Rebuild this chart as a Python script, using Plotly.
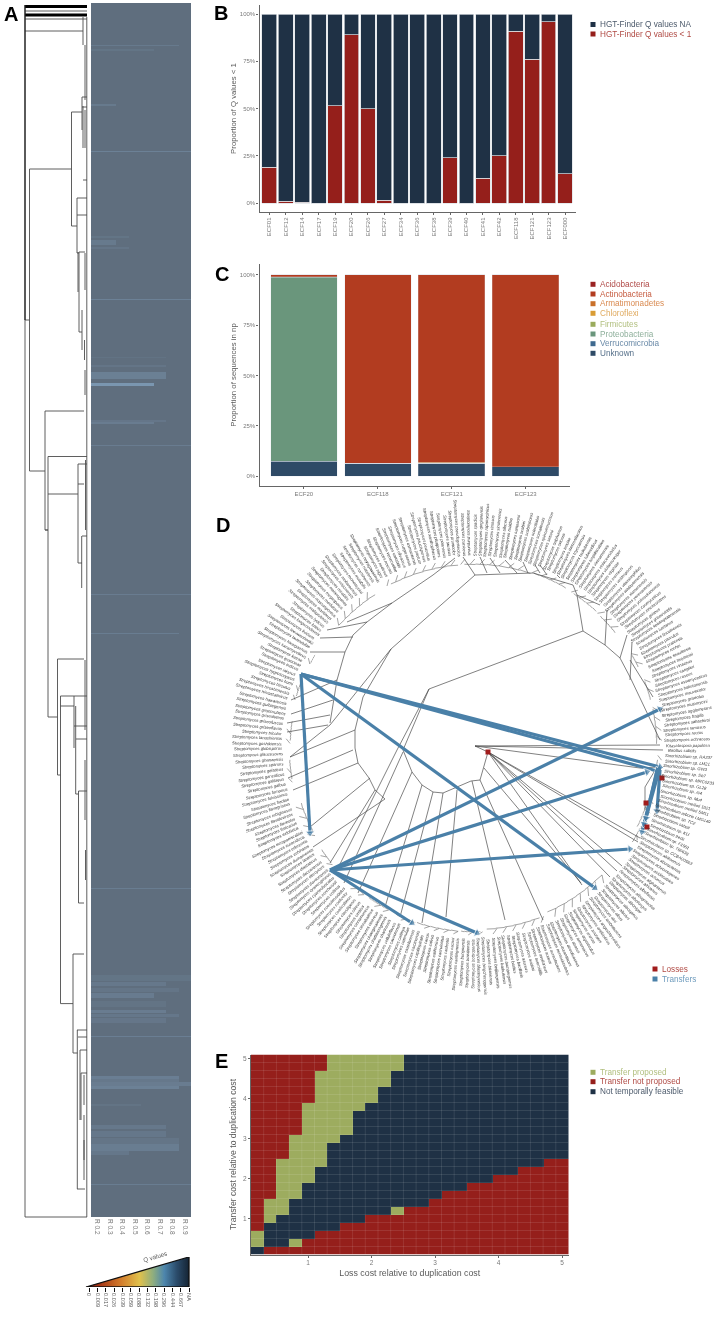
import math
import plotly.graph_objects as go

W, H = 714, 1317
FONT = "Liberation Sans"

# ---------- Panel A: heatmap ----------
hm_cols = ["R 0.2", "R 0.3", "R 0.4", "R 0.5", "R 0.6", "R 0.7", "R 0.8", "R 0.9"]
band_top = [45, 49, 104, 151, 236, 240, 247, 299, 357, 365, 372, 383, 420, 422, 445, 594, 633, 888,
            975, 982, 988, 993, 1001, 1010, 1014, 1018, 1036, 1076, 1079, 1082, 1086, 1104,
            1125, 1131, 1138, 1144, 1151, 1184]
band_bot = [46, 50.5, 105.5, 152, 238, 245, 249, 300, 358, 366.5, 379, 385.5, 421.5, 424, 446, 595, 634, 889,
            981, 986, 992, 998, 1007, 1013, 1017, 1023, 1037, 1079, 1082, 1086, 1089, 1105.5,
            1129, 1137, 1144, 1151, 1155, 1185]
band_cols = [7, 5, 2, 8, 3, 2, 3, 8, 6, 6, 6, 5, 6, 5, 8, 8, 7, 8,
             8, 6, 7, 5, 6, 6, 7, 6, 8, 7, 7, 8, 7, 4,
             6, 6, 7, 7, 3, 8]
band_level = [0.25, 0.14, 0.25, 0.4, 0.14, 0.25, 0.15, 0.4, 0.1, 0.15, 0.38, 0.85, 0.18, 0.3, 0.3, 0.3, 0.32, 0.32,
              0.14, 0.22, 0.15, 0.28, 0.12, 0.3, 0.2, 0.18, 0.35, 0.35, 0.22, 0.3, 0.4, 0.12,
              0.22, 0.2, 0.15, 0.32, 0.2, 0.32]

# ---------- Panel A: dendrogram branches ----------
dend_h_x0 = [25, 25, 25, 29.5, 71.5, 82, 82, 83, 71.5, 77, 77, 77, 79, 79, 29.5, 45, 45, 48, 48, 78, 78, 82, 48,
             57.5, 57.5, 60.5, 60.5, 74, 76, 75.7, 78.5, 78.5, 60.5, 73, 73, 77, 78, 77, 80, 81, 45,
             25, 25, 78]
dend_h_x1 = [83, 87, 29.5, 71.5, 82, 87, 87, 87, 77, 87, 87, 79, 85, 82, 45, 84, 48, 87, 78, 87, 84, 87, 57.5,
             84, 60.5, 87, 74, 87, 87, 78.5, 87, 84, 73, 84, 77.5, 87, 87, 85, 87, 87, 48,
             87, 87, 82]
dend_h_y = [31, 1217, 320, 169, 112, 97, 107, 180, 226, 198, 215, 253, 252, 332, 471, 411, 530, 456.5, 494, 464, 484, 536, 717,
            659, 775, 696, 706, 726, 739, 794, 791, 903, 1003.6, 954, 1053, 1030, 1037, 1189, 1050, 1073, 530,
            11, 19, 563]
dend_v_x = [25, 83, 29.5, 71.5, 82, 83, 77, 79, 78, 82, 45, 48, 78, 81.7, 57.5, 60.5, 74, 75.7, 78.5, 73, 77.3, 80, 81, 84,
            86.8, 85, 85, 85, 84.5, 85, 85.5, 85, 85, 85.5, 84, 84]
dend_v_y0 = [5, 17, 169, 112, 97, 106, 198, 252, 252, 310, 411, 456.5, 464, 536, 659, 696, 696, 706, 791, 954, 1030, 1050, 1073, 1115,
             17, 45, 110, 253, 340, 370, 460, 660, 760, 850, 1075, 1140]
dend_v_y1 = [1217, 45, 471, 226, 130, 148, 253, 332, 292, 350, 530, 717, 563, 588, 775, 1003.6, 748, 794, 903, 1053, 1189, 1120, 1120, 1160,
             1217, 100, 148, 290, 360, 395, 530, 730, 820, 880, 1105, 1180]
dend_thick_x0 = [25, 25]
dend_thick_x1 = [87, 87]
dend_thick_y = [6.5, 15]

# ---------- Q value key ----------
q_labels = ["0", "0.009", "0.017", "0.026", "0.039", "0.059", "0.088", "0.132", "0.198", "0.296", "0.444", "0.667", "NA"]

# ---------- Panel B ----------
b_cats = ["ECF01", "ECF12", "ECF14", "ECF17", "ECF19", "ECF20", "ECF26", "ECF27", "ECF34", "ECF36", "ECF38",
          "ECF39", "ECF40", "ECF41", "ECF42", "ECF118", "ECF121", "ECF123", "ECF000"]
b_q_lt1 = [19, 1, 0.5, 0, 51.5, 89, 50, 1.5, 0, 0, 0, 24, 0, 13, 25, 91, 76, 96, 15.5]
b_q_na = [81, 99, 99.5, 100, 48.5, 11, 50, 98.5, 100, 100, 100, 76, 100, 87, 75, 9, 24, 4, 84.5]

# ---------- Panel C ----------
c_cats = ["ECF20", "ECF118", "ECF121", "ECF123"]
c_names = ["Unknown", "Verrucomicrobia", "Proteobacteria", "Firmicutes", "Chloroflexi", "Armatimonadetes", "Actinobacteria", "Acidobacteria"]
c_unknown = [7.5, 6.5, 6.5, 4.8]
c_verruco = [0.1, 0, 0, 0]
c_proteo = [91.2, 0, 0, 0]
c_firmi = [0.2, 0, 0.1, 0]
c_chloro = [0, 0, 0, 0]
c_armati = [0, 0, 0.4, 0]
c_actino = [0.9, 93.5, 93, 95.2]
c_acido = [0.1, 0, 0, 0]

# ---------- Panel D: tree ----------
tree_paths = [
    [(583,631),(577,595),(573,585),(533,573),(475,575),(391,649),(330,725),(290,757)],
    [(330,723),(337,680),(345,652),(353,635),(367,622),(392,603),(433,575),(455,558)],
    [(391,649),(363,697),(355,730),(355,748),(358,763),(369,778),(375,790),(385,799)],
    [(488,752),(480,780),(471,781),(443,793),(433,792),(422,785),(412,772),(408,762),(403,750),(429,689),(583,631)],
    [(429,689),(397,750),(337,870)],
    [(583,631),(605,645),(620,658),(630,677),(660,740)],
    [(605,645),(607,610)], [(620,658),(627,635)], [(630,680),(632,642)], [(630,660),(653,697)], [(577,595),(600,605)],
    [(475,575),(463,557)], [(487,573),(480,557)], [(500,573),(490,558)], [(517,573),(505,560)],
    [(528,573),(523,562)], [(540,573),(535,565)], [(547,575),(540,565)], [(560,578),(557,575)],
    [(392,603),(347,622)], [(367,622),(327,630)], [(353,637),(320,638)], [(345,652),(310,652)],
    [(337,680),(291,700)], [(333,700),(291,714)], [(330,715),(287,723)], [(328,725),(287,732)],
    [(355,730),(290,757)], [(353,750),(288,778)], [(358,763),(293,790)], [(370,778),(310,827)],
    [(385,799),(313,847)], [(375,790),(330,863)],
    [(403,752),(344,883)], [(412,772),(358,893)], [(422,785),(385,907)], [(433,792),(400,917)],
    [(443,793),(422,923)], [(457,790),(446,917)],
    [(472,781),(505,920)], [(480,780),(543,920)],
    [(488,752),(640,838)], [(488,752),(638,842)], [(488,752),(622,866)], [(488,752),(617,871)], [(488,752),(610,877)],
    [(488,752),(582,885)], [(484,768),(581,883)],
    [(475,746),(663,750)], [(475,746),(660,745)], [(475,746),(640,768)], [(475,746),(488,752)],
    [(640,768),(657,767),(645,787),(645,810)],
]
# rim clusters: clockwise degrees from east, first and last angle, inner radius
rim_start = [-117, -138, -153, -164, -178, 170, 152, 141, 127, 118, 109, 95, 88, 69, 45, 26, -12, -21, -30, -46, -57, -71, -93, 4, 17]
rim_end = [-95, -123, -150, -160, -172, 176, 162, 146, 134, 125, 115, 108, 94, 86, 66, 31, -1, -15, -26, -39, -48, -60, -72, 13, 26]
rim_r = [183, 182, 184, 185, 184, 185, 182, 184, 184, 184, 185, 185, 185, 183, 181, 185, 183, 183, 183, 182, 183, 184, 183, 184, 182]

transfer_from_x = [301, 301, 301, 301, 330, 330, 330, 330, 330, 660, 658, 660, 657]
transfer_from_y = [674, 674, 674, 674, 870, 870, 870, 870, 870, 767, 768, 770, 770]
transfer_to_x = [660, 657, 310, 595, 660, 647, 630, 412, 477, 642, 644, 657, 646]
transfer_to_y = [767, 771, 833, 888, 709, 772, 849, 923, 933, 832, 824, 811, 818]
loss_x = [488, 662, 646, 647]
loss_y = [752, 778, 803, 827]

outgroup_labels = ["Bacillus subtilis", "Sinorhizobium sp. RA237", "Sinorhizobium sp. LM21", "Sinorhizobium sp. GW3",
                   "Sinorhizobium sp. Sb7", "Sinorhizobium sp. MRC0233", "Sinorhizobium sp. GL28", "Sinorhizobium sp. Ai4",
                   "Sinorhizobium sp. Mu4", "Sinorhizobium meliloti 1021", "Sinorhizobium meliloti SM11",
                   "Sinorhizobium arboris LMG149", "Sinorhizobium sp. TC2", "Sinorhizobium saheli", "Sinorhizobium sp. KLI",
                   "Sinorhizobium fredii", "Sinorhizobium sp. F1901", "Sinorhizobium sp. T60638", "Sinorhizobium sp. CCBAU0563"]
species_epithets = """abikoensis aburaviensis achromogenes acidiscabies actuosus afghaniensis africanus alboflavus albogriseolus
albolongus alboniger albospinus albulus albus alni ambofaciens angustmyceticus antibioticus anulatus arenae argenteolus armeniacus
atratus atroolivaceus aurantiacus aureocirculatus aureofaciens aureus avellaneus avermitilis avidinii azureus bacillaris badius
bambergiensis barkulensis beijiangensis bikiniensis bingchenggensis blastmyceticus bottropensis brasiliensis bungoensis caatingaensis
cacaoi caelestis caeruleatus californicus calvus canus capillispiralis carpinensis castelarensis catenulae cattleya cavourensis
celluloflavus chartreusis chattanoogensis chiangmaiensis cinereus cinnabarinus cinnamoneus cirratus citreus clavuligerus coelicoflavus
coelicolor coeruleorubidus collinus corchorusii cyaneofuscatus cyaneogriseus davaonensis decoyicus deccanensis diastaticus
lanatus durhamensis echinatus ederensis eurocidicus europaeiscabiei exfoliatus fimicarius flaveolus flavidovirens
rubiginosus flavogriseus fradiae fulvissimus fumanus galbus galilaeus gancidicus gelaticus sparsus ghanaensis glaucescens
globisporus goshikiensis tanashiensis tricolor griseoflavus griseofuscus griseoluteus griseorubens gulbargensis
hawaiiensis himastatinicus hiroshimensis hirsutus humi hygroscopicus iakyrus indicus ipomoeae katrae kanamyceticus kasugaensis
lavendulae leeuwenhoekii lividans longwoodensis luteus lydicus malaysiensis maritimus massasporeus mediolani megasporus melanogenes
mirabilis misionensis mobaraensis monomycini mutabilis nanshensis natalensis neyagawaensis niger nodosus noursei venezuelae
variabilis olivaceus rutgersensis osmaniensis pactum paucisporeus peucetius xanthophaeus pluripotens poonensis
tauricus prunicolor pseudogriseolus puniceus purpureus spadicis qinglanensis rapamycinicus rimosus
sindenensis silaceus rubidus sampsonii scabiei scabrisporus sclerotialus somaliensis spinoverrucosus setonii
sulphureus sviceus tendae thermolilacinus toyocaensis tsukubensis tubercidicus turgidiscabies vietnamensis violaceorubidus
violaceusniger virginiae cremeus viridosporus vitaminophilus wadayamensis xiamenensis yerevanensis yokosukanensis
zaomyceticus zinciresistens griseus griseoviridis kebangsaanensis lusitanus lincolnensis parvulus pratensis rochei seoulensis
toxytricini vinaceus sanglieri roseus ossamyceticus hokutonensis mauvecolor griseolus mutomycini agglomerans fragilis sahachiroi
ramosus rectus ochraceus""".split()
tail_labels = ["Kitasatospora papulosa"]

# ---------- Panel E ----------
e_ticks = [1, 2, 3, 4, 5]
e_costs = [0.2, 0.4, 0.6, 0.8, 1.0, 1.2, 1.4, 1.6, 1.8, 2.0, 2.2, 2.4, 2.6, 2.8, 3.0, 3.2, 3.4, 3.6, 3.8, 4.0, 4.2, 4.4, 4.6, 4.8, 5.0]
# one string per transfer cost (lowest first), one letter per loss cost:
# N not temporally feasible, G transfer proposed, R transfer not proposed
e_rows = [
    "NRRRRRRRRRRRRRRRRRRRRRRRR",
    "GNNGRRRRRRRRRRRRRRRRRRRRR",
    "GNNNNRRRRRRRRRRRRRRRRRRRR",
    "RNNNNNNRRRRRRRRRRRRRRRRRR",
    "RGNNNNNNNRRRRRRRRRRRRRRRR",
    "RGGNNNNNNNNGRRRRRRRRRRRRR",
    "RGGNNNNNNNNNNNRRRRRRRRRRR",
    "RRGGNNNNNNNNNNNRRRRRRRRRR",
    "RRGGNNNNNNNNNNNNNRRRRRRRR",
    "RRGGGNNNNNNNNNNNNNNRRRRRR",
    "RRGGGNNNNNNNNNNNNNNNNRRRR",
    "RRGGGGNNNNNNNNNNNNNNNNNRR",
    "RRRGGGNNNNNNNNNNNNNNNNNNN",
    "RRRGGGNNNNNNNNNNNNNNNNNNN",
    "RRRGGGGNNNNNNNNNNNNNNNNNN",
    "RRRRGGGGNNNNNNNNNNNNNNNNN",
    "RRRRGGGGNNNNNNNNNNNNNNNNN",
    "RRRRGGGGNNNNNNNNNNNNNNNNN",
    "RRRRGGGGGNNNNNNNNNNNNNNNN",
    "RRRRRGGGGGNNNNNNNNNNNNNNN",
    "RRRRRGGGGGNNNNNNNNNNNNNNN",
    "RRRRRGGGGGGNNNNNNNNNNNNNN",
    "RRRRRGGGGGGNNNNNNNNNNNNNN",
    "RRRRRRGGGGGGNNNNNNNNNNNNN",
    "RRRRRRGGGGGGNNNNNNNNNNNNN",
]

# ---------- styling ----------
NAVY, RED, GREEN = "#1f3145", "#951f1b", "#9dac5f"
GREY_TICK, GREY_TITLE, AXIS = "#7a7a7a", "#5a5a5a", "#666666"
TREE = "#4a4a4a"
BLUE = "#4a80a8"
BAR_EDGE = "#dde1e6"
c_colors = {"Acidobacteria": "#9a2222", "Actinobacteria": "#b23c20", "Armatimonadetes": "#c9702a", "Chloroflexi": "#d99c35",
            "Firmicutes": "#9aab5c", "Proteobacteria": "#6a967c", "Verrucomicrobia": "#3f6a8f", "Unknown": "#2e4a66"}


def dx(a, b):
    return [a / W, b / W]


def dy(top, bottom):
    return [1 - bottom / H, 1 - top / H]


fig = go.Figure()
plain = dict(showgrid=False, zeroline=False, showline=False, showticklabels=False, ticks="")
layout_axes = {}


def axis_style(**kw):
    d = dict(showgrid=False, zeroline=False, showline=True, linecolor=AXIS, linewidth=1.2, ticks="outside",
             tickcolor=AXIS, ticklen=2, tickwidth=0.8, tickfont=dict(size=6, color=GREY_TICK, family=FONT))
    d.update(kw)
    return d


def seg_trace(xs, ys, color, width, xa, ya):
    return go.Scatter(x=xs, y=ys, mode="lines", line=dict(color=color, width=width), xaxis=xa, yaxis=ya,
                      hoverinfo="skip", showlegend=False)


# ---- A dendrogram
xs, ys = [], []
for a, b, y in zip(dend_h_x0, dend_h_x1, dend_h_y):
    xs += [a, b, None]
    ys += [y, y, None]
for x, a, b in zip(dend_v_x, dend_v_y0, dend_v_y1):
    xs += [x, x, None]
    ys += [a, b, None]
fig.add_trace(seg_trace(xs, ys, "#4d4d4d", 0.9, "x", "y"))
xs, ys = [], []
for a, b, y in zip(dend_thick_x0, dend_thick_x1, dend_thick_y):
    xs += [a, b, None]
    ys += [y, y, None]
fig.add_trace(seg_trace(xs, ys, "#000000", 3.2, "x", "y"))
fig.add_trace(seg_trace([25, 25], [5, 320], "#222222", 1.2, "x", "y"))
layout_axes["xaxis"] = dict(plain, domain=dx(22, 90), range=[22, 90], anchor="y")
layout_axes["yaxis"] = dict(plain, domain=dy(3, 1218), range=[1218, 3], anchor="x")

# ---- A heatmap
marks = sorted({3, 1217} | set(band_top) | set(band_bot))
z = []
for a, b in zip(marks[:-1], marks[1:]):
    row = [0.0] * len(hm_cols)
    for t, bo, c, lv in zip(band_top, band_bot, band_cols, band_level):
        if t <= a and b <= bo:
            for i in range(c):
                row[i] = max(row[i], lv)
    z.append(row)
fig.add_trace(go.Heatmap(x=hm_cols, y=marks, z=z, zmin=0, zmax=1, showscale=False, xaxis="x2", yaxis="y2",
                         colorscale=[[0, "#5f6e7e"], [1, "#7f9db9"]], hoverinfo="skip"))
fig.add_trace(go.Scatter(x=[v for i in range(len(hm_cols) + 1) for v in (i - 0.5, i - 0.5, None)],
                         y=[v for i in range(len(hm_cols) + 1) for v in (3, 1217, None)], mode="lines",
                         line=dict(color="rgba(255,255,255,0.07)", width=0.8), xaxis="x2", yaxis="y2",
                         hoverinfo="skip", showlegend=False))
layout_axes["xaxis2"] = dict(domain=dx(91, 191), range=[-0.5, 7.5], tickmode="array", tickvals=list(range(8)),
                             ticktext=hm_cols, tickangle=90, showgrid=False, zeroline=False, ticks="", showline=False,
                             anchor="y2", tickfont=dict(size=6.5, color=GREY_TICK, family=FONT))
layout_axes["yaxis2"] = dict(plain, domain=dy(3, 1218), range=[1218, 3], anchor="x2")

# ---- Q value key
gradient = [[0, "#7d1c10"], [0.13, "#a63616"], [0.33, "#d2792a"], [0.52, "#e0c14c"], [0.65, "#8fae7e"],
            [0.76, "#4d86ad"], [0.88, "#2b4c6b"], [1, "#152434"]]
fig.add_trace(go.Scatter(x=[-0.36, 12, 12, -0.36], y=[0, 0, 1, 0], mode="lines", fill="toself",
                         line=dict(color="#101010", width=1.3),
                         fillgradient=dict(type="horizontal", colorscale=gradient),
                         xaxis="x3", yaxis="y3", hoverinfo="skip", showlegend=False))
layout_axes["xaxis3"] = dict(domain=dx(84, 193), range=[-5 / 8.33, 12 + 4 / 8.33], tickmode="array",
                             tickvals=list(range(13)), ticktext=q_labels, tickangle=90, showgrid=False, zeroline=False,
                             showline=False, ticks="outside", ticklen=4, tickwidth=1.1, tickcolor="#111111",
                             anchor="y3", tickfont=dict(size=5.6, color=GREY_TITLE, family=FONT))
layout_axes["yaxis3"] = dict(plain, domain=dy(1257, 1287), range=[0, 1], anchor="x3")

# ---- B
fig.add_trace(go.Bar(x=b_cats, y=b_q_lt1, name="HGT-Finder Q values < 1", marker=dict(color=RED, line=dict(color=BAR_EDGE, width=0.7)),
                     width=0.9, xaxis="x4", yaxis="y4", showlegend=False, hoverinfo="skip"))
fig.add_trace(go.Bar(x=b_cats, y=b_q_na, name="HGT-Finder Q values NA", marker=dict(color=NAVY, line=dict(color=BAR_EDGE, width=0.7)),
                     width=0.9, xaxis="x4", yaxis="y4", showlegend=False, hoverinfo="skip"))
layout_axes["xaxis4"] = axis_style(domain=dx(259.5, 575.7), range=[-0.6, 18.65], tickangle=-90, type="category",
                                   tickmode="array", tickvals=b_cats, ticktext=b_cats, anchor="y4")
layout_axes["yaxis4"] = axis_style(domain=dy(5, 212), range=[-4.76, 104.76], tickvals=[0, 25, 50, 75, 100],
                                   ticktext=["0%", "25%", "50%", "75%", "100%"], anchor="x4",
                                   title=dict(text="Proportion of Q values < 1", standoff=2,
                                              font=dict(size=7.8, color=GREY_TITLE, family=FONT)))

# ---- C
c_values = [c_unknown, c_verruco, c_proteo, c_firmi, c_chloro, c_armati, c_actino, c_acido]
for name, vals in zip(c_names, c_values):
    fig.add_trace(go.Bar(x=c_cats, y=vals, name=name, width=0.9, marker=dict(color=c_colors[name], line=dict(color=BAR_EDGE, width=0.25)),
                         xaxis="x5", yaxis="y5", showlegend=False, hoverinfo="skip"))
layout_axes["xaxis5"] = axis_style(domain=dx(259.5, 570), range=[-0.6, 3.6], type="category", tickmode="array",
                                   tickvals=c_cats, ticktext=c_cats, anchor="y5")
layout_axes["yaxis5"] = axis_style(domain=dy(264, 486), range=[-4.8, 105.3], tickvals=[0, 25, 50, 75, 100],
                                   ticktext=["0%", "25%", "50%", "75%", "100%"], anchor="x5",
                                   title=dict(text="Proportion of sequences in np", standoff=2,
                                              font=dict(size=7.8, color=GREY_TITLE, family=FONT)))

# ---- D tree
CX, CY, RIM, LAB = 474, 747, 188, 192.5
labels = outgroup_labels + ["Streptomyces " + s for s in species_epithets] + tail_labels
n = len(labels)
angles = [1.0 + i * 360.0 / n for i in range(n)]  # clockwise degrees from east
xs, ys = [], []
for p in tree_paths:
    for a, b in p:
        xs.append(a)
        ys.append(b)
    xs.append(None)
    ys.append(None)
fig.add_trace(seg_trace(xs, ys, TREE, 0.7, "x6", "y6"))


def norm(a):
    return (a + 180) % 360 - 180


def pol(r, a):
    t = math.radians(a)
    return CX + r * math.cos(t), CY + r * math.sin(t)


xs, ys = [], []
for a0, a1, r in zip(rim_start, rim_end, rim_r):
    tips = [norm(a) for a in angles if a0 <= norm(a) <= a1]
    for a in tips[::2]:
        x0, y0 = pol(r, a - 1.4)
        x1, y1 = pol(RIM, a)
        xs += [x0, x1, None]
        ys += [y0, y1, None]
    for a in [a0 + (a1 - a0) * j / 6 for j in range(6)]:
        x0, y0 = pol(r, a)
        x1, y1 = pol(r - 0.5, a + (a1 - a0) / 6)
        xs += [x0, x1, None]
        ys += [y0, y1, None]
fig.add_trace(seg_trace(xs, ys, TREE, 0.5, "x6", "y6"))

for fx, fy, tx, ty in zip(transfer_from_x, transfer_from_y, transfer_to_x, transfer_to_y):
    fig.add_trace(go.Scatter(x=[fx, tx], y=[fy, ty], mode="lines+markers", line=dict(color=BLUE, width=3.2),
                             marker=dict(symbol="triangle-up", size=[0, 8], color=BLUE, angleref="previous"),
                             xaxis="x6", yaxis="y6", hoverinfo="skip", showlegend=False, name="Transfers"))
fig.add_trace(go.Scatter(x=loss_x, y=loss_y, mode="markers", marker=dict(symbol="square", size=5, color="#a11c1c"),
                         xaxis="x6", yaxis="y6", hoverinfo="skip", showlegend=False, name="Losses"))
layout_axes["xaxis6"] = dict(plain, domain=dx(210, 714), range=[210, 714], anchor="y6")
layout_axes["yaxis6"] = dict(plain, domain=dy(505, 1000), range=[1000, 505], anchor="x6")

annotations = []
LAB_SIZE = 4.2
for name, a in zip(labels, angles):
    na = norm(a)
    w = 0.46 * LAB_SIZE * len(name)
    x, y = pol(LAB + w / 2, a)
    ta = na if -90 <= na <= 90 else na + 180
    annotations.append(dict(x=x, y=y, xref="x6", yref="y6", text=name, textangle=ta, showarrow=False,
                            xanchor="center", yanchor="middle", borderpad=0,
                            font=dict(size=LAB_SIZE, color="#3a3a3a", family=FONT, style="italic")))

# ---- E
code = {"N": 0, "G": 1, "R": 2}
e_z = [[code[c] for c in row] for row in e_rows]
fig.add_trace(go.Heatmap(x=e_costs, y=e_costs, z=e_z, zmin=0, zmax=2, showscale=False, xaxis="x7", yaxis="y7", hoverinfo="skip",
                         colorscale=[[0, NAVY], [0.33, NAVY], [0.33, GREEN], [0.66, GREEN], [0.66, RED], [1, RED]]))
gx, gy = [], []
for c in e_costs[:-1]:
    e = c + 0.1
    gx += [e, e, None, 0.1, 5.1, None]
    gy += [0.1, 5.1, None, e, e, None]
fig.add_trace(seg_trace(gx, gy, "rgba(255,255,255,0.13)", 0.8, "x7", "y7"))
layout_axes["xaxis7"] = axis_style(domain=dx(251, 568.5), range=[0.1, 5.1], tickvals=e_ticks, anchor="y7", tickfont=dict(size=6.5, color=GREY_TICK, family=FONT),
                                   title=dict(text="Loss cost relative to duplication cost", standoff=4,
                                              font=dict(size=8.8, color=GREY_TITLE, family=FONT)))
layout_axes["yaxis7"] = axis_style(domain=dy(1054.5, 1254.5), range=[0.1, 5.1], tickvals=e_ticks, anchor="x7", tickfont=dict(size=6.5, color=GREY_TICK, family=FONT),
                                   title=dict(text="Transfer cost relative to duplication cost", standoff=4,
                                              font=dict(size=8.6, color=GREY_TITLE, family=FONT)))

# ---- legends and panel letters
legend_x = [593, 593, 593, 593, 593, 593, 593, 593, 593, 593, 655, 655, 593, 593, 593]
legend_y = [24.5, 34, 284.3, 294, 303.7, 313.3, 324.3, 334, 343.7, 353.3, 969, 979, 1072.3, 1081.7, 1091.7]
legend_text = ["HGT-Finder Q values NA", "HGT-Finder Q values < 1", "Acidobacteria", "Actinobacteria", "Armatimonadetes",
               "Chloroflexi", "Firmicutes", "Proteobacteria", "Verrucomicrobia", "Unknown", "Losses", "Transfers",
               "Transfer proposed", "Transfer not proposed", "Not temporally feasible"]
legend_swatch = [NAVY, RED, "#9a2222", "#b23c20", "#c9702a", "#d99c35", "#9aab5c", "#6a967c", "#3f6a8f", "#2e4a66",
                 "#a11c1c", BLUE, GREEN, RED, NAVY]
legend_font = ["#4c5a6b", "#b04a44", "#b04a48", "#c65c40", "#d98a50", "#e0ab60", "#b1bf7f", "#8fb09c", "#6a8aa8", "#56708a",
               "#b04a44", "#6e9bbd", "#b1bf7f", "#b04a44", "#4c5a6b"]
shapes = []
for lx, ly, t, sw, fc in zip(legend_x, legend_y, legend_text, legend_swatch, legend_font):
    shapes.append(dict(type="rect", xref="paper", yref="paper", x0=(lx - 2.5) / W, x1=(lx + 2.5) / W,
                       y0=1 - (ly + 2.5) / H, y1=1 - (ly - 2.5) / H, fillcolor=sw, line=dict(width=0)))
    annotations.append(dict(x=(lx + 5) / W, y=1 - ly / H, xref="paper", yref="paper", text=t, showarrow=False,
                            xanchor="left", yanchor="middle", font=dict(size=8.2, color=fc, family=FONT)))

letters = ["A", "B", "C", "D", "E"]
letter_x = [3, 213, 213.5, 214.5, 213.5]
letter_y = [14, 13, 274, 525, 1061]
for t, lx, ly in zip(letters, letter_x, letter_y):
    annotations.append(dict(x=lx / W, y=1 - ly / H, xref="paper", yref="paper", text="<b>%s</b>" % t, showarrow=False,
                            xanchor="left", yanchor="middle", borderpad=0, font=dict(size=20, color="#000000", family=FONT)))

annotations.append(dict(x=140 / W, y=1 - 1266 / H, xref="paper", yref="paper", text="Q values", textangle=-16, showarrow=False,
                        font=dict(size=6.2, color=GREY_TITLE, family=FONT)))

fig.update_layout(width=W, height=H, margin=dict(l=0, r=0, t=0, b=0), autosize=False, paper_bgcolor="white", plot_bgcolor="rgba(0,0,0,0)",
                  barmode="stack", showlegend=False, annotations=annotations, shapes=shapes,
                  font=dict(family=FONT), **layout_axes)
fig.write_html("out.html", config=dict(displayModeBar=False),
               post_script="document.body.style.margin='0';document.body.style.padding='0';"
                           "document.querySelector('.plotly-graph-div').style.filter='blur(0.4px)';")
